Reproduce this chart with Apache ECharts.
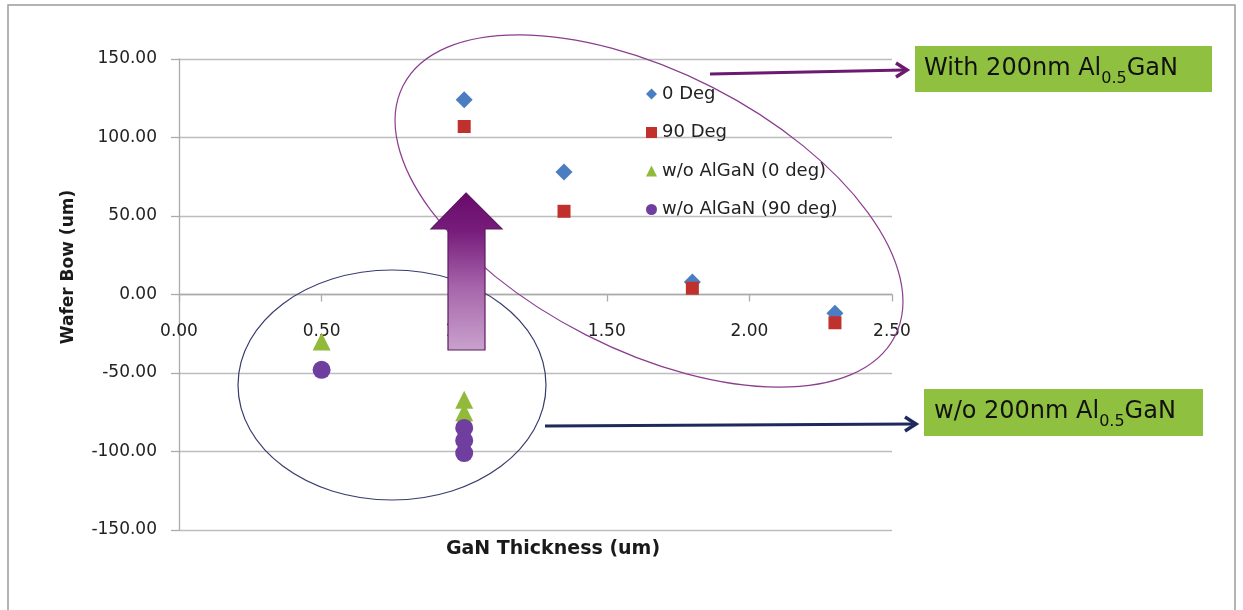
<!DOCTYPE html>
<html><head><meta charset="utf-8">
<script src="https://cdn.jsdelivr.net/npm/echarts@6/dist/echarts.min.js"></script>
<style>html,body{margin:0;padding:0;background:#fff}#c{width:1243px;height:610px}</style>
</head><body><div id="c"></div>
<script>
// ---- data ----
const seriesNames = ['0 Deg', '90 Deg', 'w/o AlGaN (0 deg)', 'w/o AlGaN (90 deg)'];
const xWith = [1.00, 1.35, 1.80, 2.30];
const bow0Deg = [124, 78, 8, -12];
const bow90Deg = [107, 53, 4, -18];
const xWo0 = [0.50, 1.00, 1.00];
const bowWo0 = [-30, -67, -75];
const xWo90 = [0.50, 1.00, 1.00, 1.00];
const bowWo90 = [-48, -85, -93, -101];
const xTicks = [0.00, 0.50, 1.00, 1.50, 2.00, 2.50];
const yTicks = [-150, -100, -50, 0, 50, 100, 150];
const xTitle = 'GaN Thickness (um)';
const yTitle = 'Wafer Bow (um)';

const FONT = 'DejaVu Sans';
const pairs = (xs, ys) => xs.map((x, i) => [x, ys[i]]);

const W = 1243, H = 610;
const grid = {left: 179, right: 351, top: 59, bottom: 80};
const yMin = yTicks[0], yMax = yTicks[yTicks.length - 1];
const gridH = H - grid.top - grid.bottom;
// move the x axis (line, ticks and labels) up to the y = 0 line
const xAxisOffset = -gridH * (0 - yMin) / (yMax - yMin);

const chart = echarts.init(document.getElementById('c'), null, {renderer: 'canvas'});

function boxLabel(x, y, pre) {
  return {
    type: 'text', x: x, y: y, z: 20,
    style: {
      text: '{n|' + pre + ' 200nm Al}{s|0.5}{n|GaN}',
      rich: {
        n: {fontFamily: FONT, fontSize: 24, lineHeight: 30, fill: '#111'},
        s: {fontFamily: FONT, fontSize: 16, lineHeight: 35, verticalAlign: 'bottom', fill: '#111'}
      },
      verticalAlign: 'middle', align: 'left'
    }
  };
}

const option = {
  backgroundColor: '#fff',
  animation: false,
  grid: Object.assign({containLabel: false}, grid),
  xAxis: {
    type: 'value', min: xTicks[0], max: xTicks[xTicks.length - 1], interval: xTicks[1] - xTicks[0],
    offset: xAxisOffset,
    axisLine: {onZero: false, lineStyle: {color: '#ababab', width: 1.3}},
    axisTick: {show: true, length: 7, lineStyle: {color: '#ababab', width: 1.3}},
    axisLabel: {margin: 29, fontFamily: FONT, fontSize: 17, color: '#222', formatter: v => v.toFixed(2)},
    splitLine: {show: false}
  },
  yAxis: {
    type: 'value', min: yMin, max: yMax, interval: yTicks[1] - yTicks[0],
    axisLine: {show: true, onZero: false, lineStyle: {color: '#ababab', width: 1.3}},
    axisTick: {show: true, length: 8, lineStyle: {color: '#ababab', width: 1.3}},
    axisLabel: {margin: 22, fontFamily: FONT, fontSize: 17, color: '#222', formatter: v => v.toFixed(2)},
    splitLine: {show: true, lineStyle: {color: '#bdbdbd', width: 1.3}}
  },
  legend: {
    orient: 'vertical', left: 641, top: 79,
    itemWidth: 11, itemHeight: 11, itemGap: 18.5,
    textStyle: {fontFamily: FONT, fontSize: 18, color: '#222', lineHeight: 20},
    data: seriesNames
  },
  series: [
    {name: seriesNames[0], type: 'scatter', symbol: 'diamond', symbolSize: 17,
     itemStyle: {color: '#4a7dc2', opacity: 1}, data: pairs(xWith, bow0Deg)},
    {name: seriesNames[1], type: 'scatter', symbol: 'rect', symbolSize: 13,
     itemStyle: {color: '#c0302c', opacity: 1}, data: pairs(xWith, bow90Deg)},
    {name: seriesNames[2], type: 'scatter', symbol: 'triangle', symbolSize: 18,
     itemStyle: {color: '#92ba3a', opacity: 1}, data: pairs(xWo0, bowWo0)},
    {name: seriesNames[3], type: 'scatter', symbol: 'circle', symbolSize: 18,
     itemStyle: {color: '#6f3e9e', opacity: 1}, data: pairs(xWo90, bowWo90)}
  ],
  graphic: [
    {type: 'rect', z: 0, shape: {x: 8, y: 5, width: 1227, height: 620},
     style: {fill: 'none', stroke: '#9c9c9c', lineWidth: 1.5}},
    {type: 'ellipse', z: 20, shape: {cx: 392, cy: 385, rx: 154, ry: 115},
     style: {fill: 'none', stroke: '#393d6d', lineWidth: 1.2}},
    {type: 'ellipse', z: 20, x: 649, y: 211, rotation: -27 * Math.PI / 180,
     shape: {cx: 0, cy: 0, rx: 276, ry: 139},
     style: {fill: 'none', stroke: '#8b3d8f', lineWidth: 1.2}},
    {type: 'polygon', z: 30,
     shape: {points: [[466, 193], [502, 229], [485, 229], [485, 350], [448, 350], [448, 229], [431, 229]]},
     style: {
       fill: new echarts.graphic.LinearGradient(0, 0, 0, 1, [
         {offset: 0, color: '#690a6b'}, {offset: 0.25, color: '#781d7c'},
         {offset: 0.6, color: '#a765ab'}, {offset: 1, color: '#c9a2cd'}]),
       stroke: '#5e1a62', lineWidth: 1.2
     }},
    // top arrow
    {type: 'line', z: 20, shape: {x1: 710, y1: 74, x2: 904, y2: 70},
     style: {stroke: '#6b1a6f', lineWidth: 3}},
    {type: 'polyline', z: 20, shape: {points: [[896, 63], [907, 70], [896, 77]]},
     style: {stroke: '#6b1a6f', lineWidth: 3.5, fill: 'none'}},
    // bottom arrow
    {type: 'line', z: 20, shape: {x1: 545, y1: 426, x2: 914, y2: 424},
     style: {stroke: '#1f2a5c', lineWidth: 3}},
    {type: 'polyline', z: 20, shape: {points: [[905, 417], [916, 424], [905, 431]]},
     style: {stroke: '#1f2a5c', lineWidth: 3.5, fill: 'none'}},
    // green boxes
    {type: 'rect', z: 15, shape: {x: 915, y: 46, width: 297, height: 46}, style: {fill: '#8fc03f'}},
    boxLabel(924, 69, 'With'),
    {type: 'rect', z: 15, shape: {x: 924, y: 389, width: 279, height: 47}, style: {fill: '#8fc03f'}},
    boxLabel(934, 412, 'w/o'),
    // axis titles
    {type: 'text', z: 20, x: 553, y: 549,
     style: {text: xTitle, fontFamily: FONT, fontWeight: 'bold', fontSize: 19, fill: '#1a1a1a',
             align: 'center', verticalAlign: 'middle'}},
    {type: 'text', z: 20, x: 69, y: 267, rotation: Math.PI / 2,
     style: {text: yTitle, fontFamily: FONT, fontWeight: 'bold', fontSize: 17, fill: '#1a1a1a',
             align: 'center', verticalAlign: 'middle'}}
  ]
};
chart.setOption(option);
</script>
</body></html>
